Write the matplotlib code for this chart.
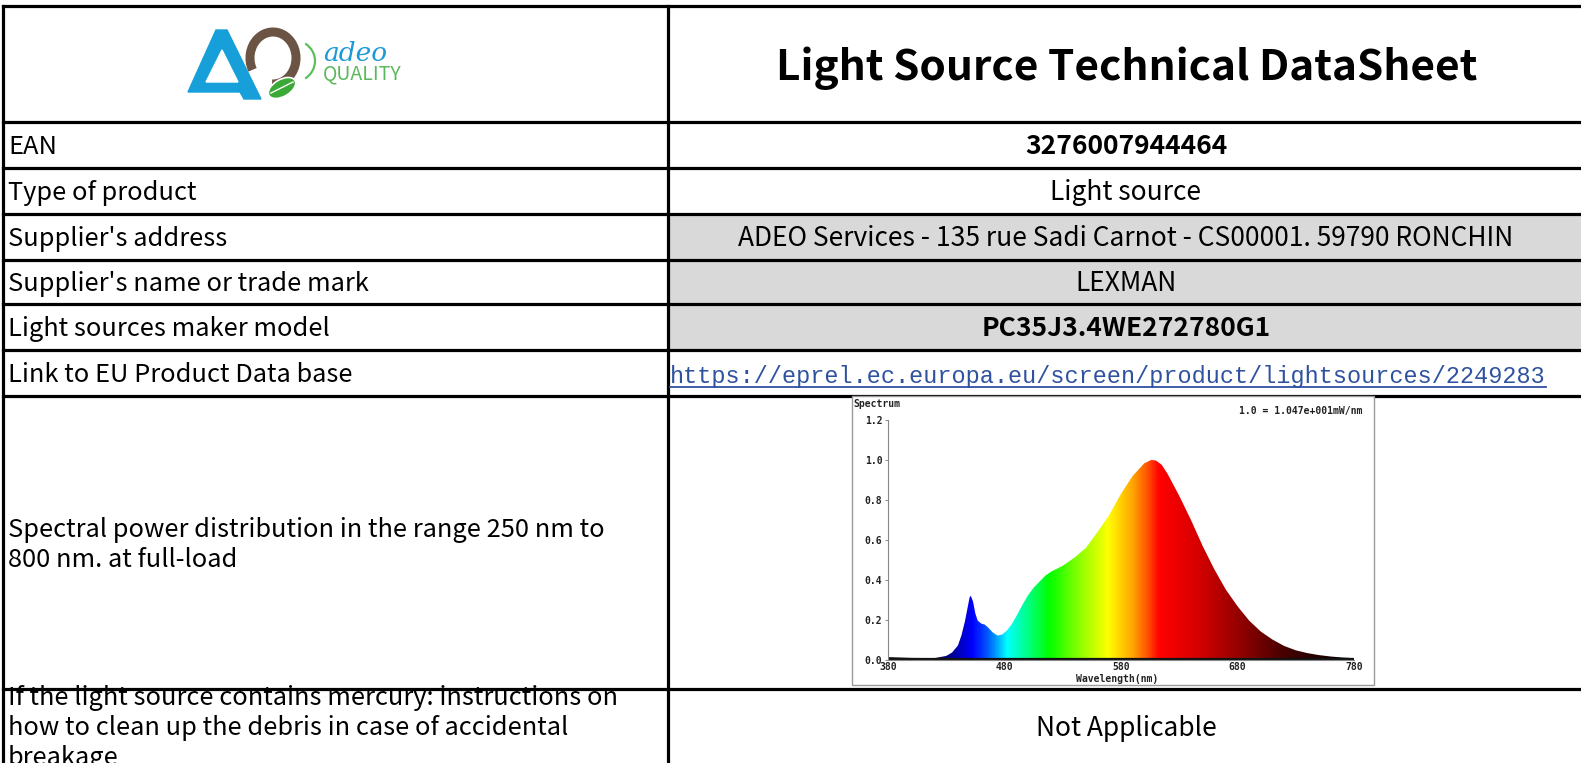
import numpy as np
import matplotlib
matplotlib.use("Agg")
import matplotlib.pyplot as plt
from matplotlib.patches import Rectangle, Polygon, Arc, Ellipse
from matplotlib.colors import LinearSegmentedColormap

# ---- table content ----
title = "Light Source Technical DataSheet"
row_labels = [
    "EAN",
    "Type of product",
    "Supplier's address",
    "Supplier's name or trade mark",
    "Light sources maker model",
    "Link to EU Product Data base",
]
row_values = [
    "3276007944464",
    "Light source",
    "ADEO Services - 135 rue Sadi Carnot - CS00001. 59790 RONCHIN",
    "LEXMAN",
    "PC35J3.4WE272780G1",
    "https://eprel.ec.europa.eu/screen/product/lightsources/2249283",
]
row_bold = [True, False, False, False, True, False]
row_grey = [False, False, True, True, True, False]
spd_label = ["Spectral power distribution in the range 250 nm to", "800 nm. at full-load"]
mercury_label = ["If the light source contains mercury: instructions on",
                 "how to clean up the debris in case of accidental", "breakage"]
mercury_value = "Not Applicable"

# ---- spectrum ----
wavelength = [380, 400, 420, 430, 435, 440, 443, 446, 448, 450, 451, 453, 455, 457,
              460, 463, 466, 470, 474, 478, 482, 486, 490, 495, 500, 505, 510, 515,
              520, 530, 540, 550, 560, 570, 580, 590, 600, 606, 610, 615, 620, 630,
              640, 650, 660, 670, 680, 690, 700, 710, 720, 730, 740, 750, 760, 770, 780]
relative_power = [0.012, 0.008, 0.007, 0.018, 0.035, 0.07, 0.12, 0.19, 0.25, 0.31, 0.32,
                  0.29, 0.23, 0.195, 0.18, 0.175, 0.16, 0.135, 0.12, 0.125, 0.145,
                  0.175, 0.215, 0.27, 0.32, 0.36, 0.39, 0.42, 0.44, 0.47, 0.51, 0.56,
                  0.64, 0.725, 0.83, 0.92, 0.983, 1.0, 0.997, 0.975, 0.93, 0.82, 0.70,
                  0.57, 0.453, 0.35, 0.267, 0.195, 0.14, 0.10, 0.068, 0.046, 0.032,
                  0.022, 0.015, 0.01, 0.007]
y_ticks = [0.0, 0.2, 0.4, 0.6, 0.8, 1.0, 1.2]
x_ticks = [380, 480, 580, 680, 780]

W, H = 1581, 763
FONT = ["Noto Sans CJK SC", "DejaVu Sans"]
LEFT_FS = 18.3
RIGHT_FS = 19

fig = plt.figure(figsize=(W / 100, H / 100), dpi=100)
ax = fig.add_axes([0, 0, 1, 1])
ax.set_xlim(0, W)
ax.set_ylim(H, 0)
ax.axis("off")

# table geometry (pixels)
x_left, x_mid = 3, 668
row_lines = [6, 122, 168, 214, 260, 304, 350, 396, 689]
col_center = 1126

for i, grey in enumerate(row_grey):
    if grey:
        ax.add_patch(Rectangle((x_mid, row_lines[i + 1]), W - x_mid,
                               row_lines[i + 2] - row_lines[i + 1],
                               color="#d9d9d9", zorder=1))

lw = 2.3
for y in row_lines:
    ax.plot([x_left, W], [y, y], color="black", lw=lw, solid_capstyle="projecting", zorder=2)
for x in (x_left, x_mid):
    ax.plot([x, x], [row_lines[0], H + 5], color="black", lw=lw, solid_capstyle="projecting", zorder=2)

# title
ax.text(1127, 80, title, fontsize=30.5, fontweight="bold", family=FONT,
        ha="center", va="baseline", zorder=5)

renderer = fig.canvas.get_renderer()

# rows
for i, (lab, val) in enumerate(zip(row_labels, row_values)):
    yb = (row_lines[i + 1] + row_lines[i + 2]) / 2 + 9
    ax.text(8, yb, lab, fontsize=LEFT_FS, family=FONT, ha="left", va="baseline", zorder=5)
    if val.startswith("http"):
        t = ax.text(x_mid + 2, yb + 1, val, fontsize=16.9, family=["Liberation Mono"],
                    color="#2f52a0", ha="left", va="baseline", zorder=5)
        bb = t.get_window_extent(renderer).transformed(ax.transData.inverted())
        ax.plot([bb.x0, bb.x1], [yb + 5, yb + 5], color="#2f52a0", lw=1.3, zorder=5)
    else:
        ax.text(col_center, yb, val, fontsize=RIGHT_FS, family=FONT,
                fontweight="bold" if row_bold[i] else "normal",
                ha="center", va="baseline", zorder=5)

for k, line in enumerate(spd_label):
    ax.text(8, 537 + 30 * k, line, fontsize=LEFT_FS, family=FONT, ha="left", va="baseline", zorder=5)

cell = Rectangle((x_left, 690), x_mid - x_left, H - 690, transform=ax.transData)
for k, line in enumerate(mercury_label):
    t = ax.text(8, 705 + 30 * k, line, fontsize=LEFT_FS, family=FONT, ha="left",
                va="baseline", zorder=5)
    t.set_clip_path(cell)
ax.text(col_center, 736, mercury_value, fontsize=RIGHT_FS, family=FONT,
        ha="center", va="baseline", zorder=5)

# logo
blue, brown, green = "#169fd8", "#6b5444", "#3aa935"
ax.add_patch(Polygon([(188, 92), (216, 30), (227, 30), (261, 99), (244, 99), (240, 92)],
                     closed=True, color=blue, zorder=4))
ax.add_patch(Polygon([(206, 82), (222, 50), (238, 82)], closed=True, color="white", zorder=4))
ax.add_patch(Arc((273, 58), 46, 52, theta1=150, theta2=452, color=brown, lw=6.5, zorder=4))
ax.add_patch(Ellipse((282, 88), 30, 17, angle=-30, facecolor=green, edgecolor="white",
                     lw=1.2, zorder=5))
ax.plot([271, 293], [93, 82], color="white", lw=1, zorder=6)
ax.add_patch(Arc((293, 61), 44, 42, theta1=-55, theta2=55, color="#5cbf5c", lw=1.6, zorder=4))
ax.text(323, 61, "adeo", fontsize=19, family=["DejaVu Serif"], style="italic",
        color="#1c9ad6", ha="left", va="baseline", zorder=5)
ax.text(323, 79, "QUALITY", fontsize=14, family=FONT, color="#5cb85c",
        ha="left", va="baseline", zorder=5)

# embedded spectrum chart
ax.add_patch(Rectangle((852, 396), 1374 - 852, 685 - 396, facecolor="white",
                       edgecolor="#9a9a9a", lw=1, zorder=3))
mono = dict(family=["DejaVu Sans Mono"], fontweight="bold", color="#222222")
ax.text(853, 407, "Spectrum", fontsize=7, ha="left", va="baseline", zorder=6, **mono)
ax.text(1362, 414, "1.0 = 1.047e+001mW/nm", fontsize=7, ha="right", va="baseline",
        zorder=6, **mono)
ax.text(1117, 682, "Wavelength(nm)", fontsize=7, ha="center", va="baseline", zorder=6, **mono)

sx = fig.add_axes([888 / W, 1 - 659.5 / H, (1354 - 888) / W, (659.5 - 420) / H])
sx.patch.set_alpha(0)
stops = [(380, "#140814"), (420, "#0a0a40"), (437, "#0000a8"), (452, "#0000ff"),
         (466, "#0060ff"), (482, "#00ffff"), (498, "#00ff90"), (518, "#00ff00"),
         (545, "#90ff00"), (569, "#ffff00"), (591, "#ffa000"), (603, "#ff5000"),
         (613, "#ff0000"), (645, "#d80000"), (680, "#980000"), (720, "#480000"),
         (780, "#000000")]
cmap = LinearSegmentedColormap.from_list(
    "spec", [((w - 380) / 400, c) for w, c in stops])
grad = np.linspace(0, 1, 800).reshape(1, -1)
im = sx.imshow(grad, extent=(380, 780, 0, 1.2), aspect="auto", cmap=cmap, zorder=1)
fill = sx.fill_between(wavelength, relative_power, 0, color="none", lw=0)
im.set_clip_path(fill.get_paths()[0], transform=sx.transData)
sx.plot([380, 780], [0.004, 0.004], color="#111111", lw=1.6, zorder=2)
sx.set_xlim(380, 780)
sx.set_ylim(0, 1.2)
sx.set_yticks(y_ticks)
sx.set_yticklabels([f"{v:.1f}" for v in y_ticks])
sx.set_xticks(x_ticks)
sx.set_xticklabels([str(v) for v in x_ticks])
for lab in sx.get_xticklabels() + sx.get_yticklabels():
    lab.set_fontsize(7)
    lab.set_fontfamily("DejaVu Sans Mono")
    lab.set_fontweight("bold")
    lab.set_color("#222222")
sx.tick_params(axis="y", length=2.5, width=0.6, color="#777777", pad=1.5)
sx.tick_params(axis="x", length=0, pad=1.5)
for side in ("top", "right"):
    sx.spines[side].set_visible(False)
for side in ("left", "bottom"):
    sx.spines[side].set_color("#888888")
    sx.spines[side].set_linewidth(0.8)

fig.savefig("out.png", dpi=100)
